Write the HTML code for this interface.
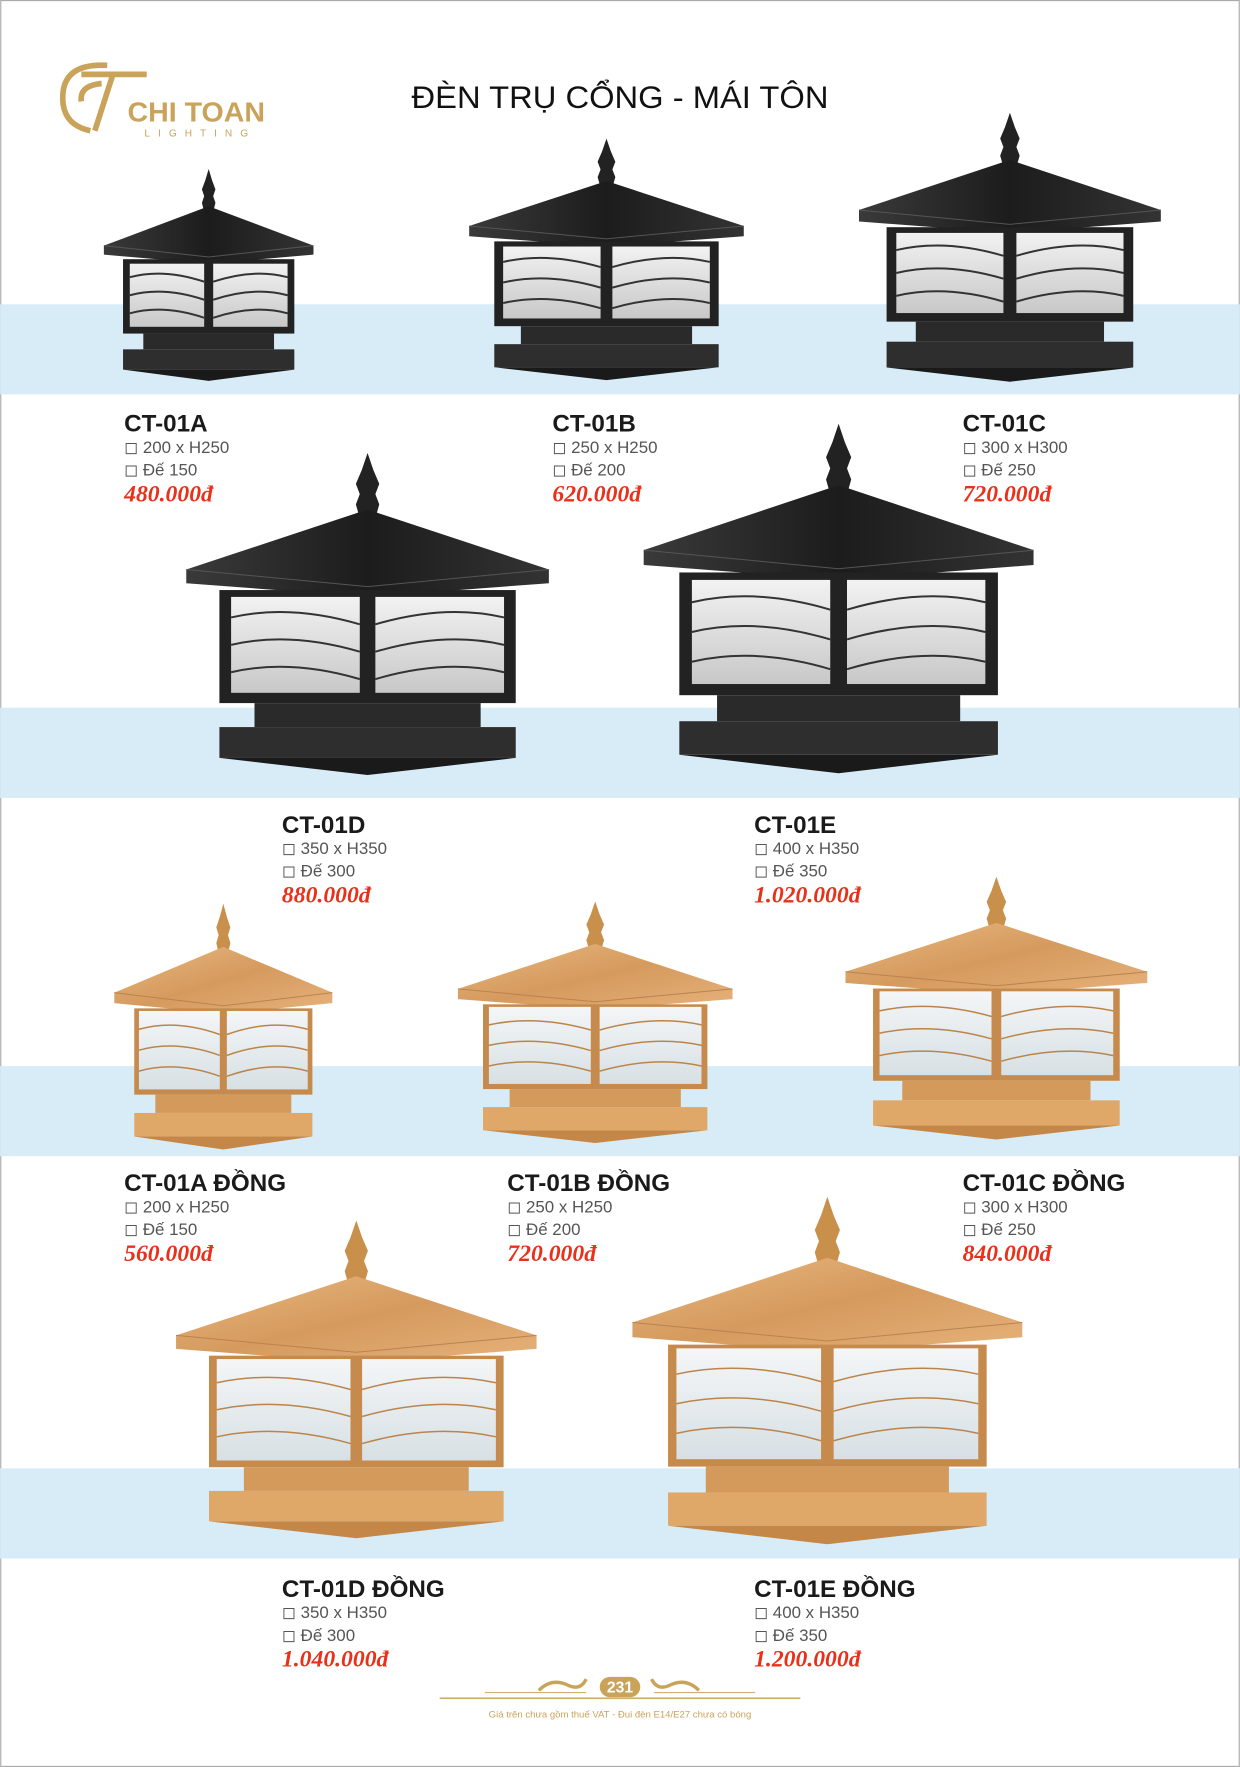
<!DOCTYPE html>
<html><head><meta charset="utf-8"><style>
html,body{margin:0;padding:0;background:#fff}
svg{display:block}
.n{font-family:"Liberation Sans",sans-serif;font-weight:bold;font-size:21.5px;fill:#1a1a1a}
.d{font-family:"Liberation Sans",sans-serif;font-size:15px;fill:#555}
.p{font-family:"Liberation Serif",serif;font-weight:bold;font-style:italic;font-size:21px;fill:#e8301a}
</style></head><body>
<svg width="1240" height="1767" viewBox="0 0 1100 1568" xmlns="http://www.w3.org/2000/svg">
<defs>
<linearGradient id="roofB" x1="0" y1="0" x2="1" y2="0"><stop offset="0" stop-color="#3a3a3a"/><stop offset=".5" stop-color="#1c1c1c"/><stop offset="1" stop-color="#333"/></linearGradient>
<linearGradient id="roofG" x1="0" y1="0" x2="1" y2="1"><stop offset="0" stop-color="#e9b880"/><stop offset=".5" stop-color="#d59a5e"/><stop offset="1" stop-color="#e6b27a"/></linearGradient>
<linearGradient id="glass" x1="0" y1="0" x2="0" y2="1"><stop offset="0" stop-color="#f2f2f2"/><stop offset="1" stop-color="#c8c8c8"/></linearGradient>
<linearGradient id="glassG" x1="0" y1="0" x2="0" y2="1"><stop offset="0" stop-color="#f4f6f7"/><stop offset="1" stop-color="#d7e0e4"/></linearGradient>
<g id="lb">
 <path d="M-4 38 L-6 30 L-4 24 L-6 18 L-3 10 L0 0 L3 10 L6 18 L4 24 L6 30 L4 38Z" fill="#222"/>
 <path d="M0 33 L93 68 L93 76 L0 84 L-93 76 L-93 68Z" fill="url(#roofB)"/>
 <path d="M-93 68 L0 78 L93 68" stroke="#555" fill="none" stroke-width="1" vector-effect="non-scaling-stroke"/>
 <rect x="-76" y="80" width="152" height="66" fill="#222"/>
 <rect x="-70" y="84" width="66" height="56" fill="url(#glass)"/>
 <rect x="4" y="84" width="66" height="56" fill="url(#glass)"/>
 <path d="M-70 96 Q-40 88 -4 100 M4 100 Q40 88 70 96 M-70 112 Q-40 104 -4 116 M4 116 Q40 104 70 112 M-70 128 Q-40 120 -4 132 M4 132 Q40 120 70 128" stroke="#333" fill="none" stroke-width="2" vector-effect="non-scaling-stroke"/>
 <rect x="-58" y="146" width="116" height="14" fill="#2a2a2a"/>
 <rect x="-76" y="160" width="152" height="18" fill="#2e2e2e"/>
 <path d="M-76 178 L76 178 L0 188Z" fill="#1a1a1a"/>
</g>
<g id="lg">
 <path d="M-4 38 L-6 30 L-4 24 L-6 18 L-3 10 L0 0 L3 10 L6 18 L4 24 L6 30 L4 38Z" fill="#c9904c"/>
 <path d="M0 33 L93 68 L93 76 L0 84 L-93 76 L-93 68Z" fill="url(#roofG)"/>
 <path d="M-93 68 L0 78 L93 68" stroke="#b98250" fill="none" stroke-width="1" vector-effect="non-scaling-stroke"/>
 <rect x="-76" y="80" width="152" height="66" fill="#c68a4c"/>
 <rect x="-72" y="82" width="69" height="60" fill="url(#glassG)"/>
 <rect x="3" y="82" width="69" height="60" fill="url(#glassG)"/>
 <path d="M-72 96 Q-40 88 -3 100 M3 100 Q40 88 72 96 M-72 112 Q-40 104 -3 116 M3 116 Q40 104 72 112 M-72 128 Q-40 120 -3 132 M3 132 Q40 120 72 128" stroke="#b9854a" fill="none" stroke-width="1.5" vector-effect="non-scaling-stroke"/>
 <rect x="-58" y="146" width="116" height="14" fill="#d39a5c"/>
 <rect x="-76" y="160" width="152" height="18" fill="#e0a868"/>
 <path d="M-76 178 L76 178 L0 188Z" fill="#c48748"/>
</g>
</defs>
<rect x="0.5" y="0.5" width="1099" height="1567" fill="#fff" stroke="#aaa"/>
<rect x="0" y="270" width="1100" height="80" fill="#d8ecf8"/>
<rect x="0" y="628" width="1100" height="80" fill="#d8ecf8"/>
<rect x="0" y="946" width="1100" height="80" fill="#d8ecf8"/>
<rect x="0" y="1303" width="1100" height="80" fill="#d8ecf8"/>
<!-- logo -->
<g fill="none" stroke="#c9a35a" stroke-width="5">
<path d="M95 58 Q60 56 56 80 Q52 110 80 116"/>
<path d="M72 66 L130 66 M100 66 L84 116 M72 90 Q70 76 90 74"/>
</g>
<text x="113" y="108" font-family="Liberation Sans,sans-serif" font-weight="bold" font-size="25" fill="#c9a35a" textLength="122" lengthAdjust="spacingAndGlyphs">CHI TOAN</text>
<text x="128" y="121" font-family="Liberation Sans,sans-serif" font-size="9" fill="#c9a35a" textLength="92" lengthAdjust="spacing">LIGHTING</text>
<text x="365" y="96" font-family="Liberation Sans,sans-serif" font-size="28" fill="#111" textLength="370" lengthAdjust="spacingAndGlyphs">ĐÈN TRỤ CỔNG - MÁI TÔN</text>
<!-- lamps -->
<use href="#lb" transform="translate(185,150) scale(1.0,1.0)"/>
<use href="#lb" transform="translate(538,123) scale(1.31,1.14)"/>
<use href="#lb" transform="translate(896,100) scale(1.44,1.27)"/>
<use href="#lb" transform="translate(326,402) scale(1.73,1.52)"/>
<use href="#lb" transform="translate(744,376) scale(1.86,1.65)"/>
<use href="#lg" transform="translate(198,802) scale(1.04,1.16)"/>
<use href="#lg" transform="translate(528,800) scale(1.31,1.14)"/>
<use href="#lg" transform="translate(884,778) scale(1.44,1.24)"/>
<use href="#lg" transform="translate(316,1083) scale(1.72,1.5)"/>
<use href="#lg" transform="translate(734,1062) scale(1.86,1.64)"/>
<!-- labels -->
<g>
<text class="n" x="110" y="383">CT-01A</text><text class="d" x="110" y="402">◻ 200 x H250</text><text class="d" x="110" y="422">◻ Đế 150</text><text class="p" x="110" y="445">480.000đ</text>
<text class="n" x="490" y="383">CT-01B</text><text class="d" x="490" y="402">◻ 250 x H250</text><text class="d" x="490" y="422">◻ Đế 200</text><text class="p" x="490" y="445">620.000đ</text>
<text class="n" x="854" y="383">CT-01C</text><text class="d" x="854" y="402">◻ 300 x H300</text><text class="d" x="854" y="422">◻ Đế 250</text><text class="p" x="854" y="445">720.000đ</text>
<text class="n" x="250" y="739">CT-01D</text><text class="d" x="250" y="758">◻ 350 x H350</text><text class="d" x="250" y="778">◻ Đế 300</text><text class="p" x="250" y="801">880.000đ</text>
<text class="n" x="669" y="739">CT-01E</text><text class="d" x="669" y="758">◻ 400 x H350</text><text class="d" x="669" y="778">◻ Đế 350</text><text class="p" x="669" y="801">1.020.000đ</text>
<text class="n" x="110" y="1057">CT-01A ĐỒNG</text><text class="d" x="110" y="1076">◻ 200 x H250</text><text class="d" x="110" y="1096">◻ Đế 150</text><text class="p" x="110" y="1119">560.000đ</text>
<text class="n" x="450" y="1057">CT-01B ĐỒNG</text><text class="d" x="450" y="1076">◻ 250 x H250</text><text class="d" x="450" y="1096">◻ Đế 200</text><text class="p" x="450" y="1119">720.000đ</text>
<text class="n" x="854" y="1057">CT-01C ĐỒNG</text><text class="d" x="854" y="1076">◻ 300 x H300</text><text class="d" x="854" y="1096">◻ Đế 250</text><text class="p" x="854" y="1119">840.000đ</text>
<text class="n" x="250" y="1417">CT-01D ĐỒNG</text><text class="d" x="250" y="1436">◻ 350 x H350</text><text class="d" x="250" y="1456">◻ Đế 300</text><text class="p" x="250" y="1479">1.040.000đ</text>
<text class="n" x="669" y="1417">CT-01E ĐỒNG</text><text class="d" x="669" y="1436">◻ 400 x H350</text><text class="d" x="669" y="1456">◻ Đế 350</text><text class="p" x="669" y="1479">1.200.000đ</text>
</g>
<!-- footer -->
<line x1="390" y1="1507" x2="710" y2="1507" stroke="#d0b070" stroke-width="1.5"/>
<path d="M430 1502 L520 1502 M580 1502 L670 1502" stroke="#d0b070" stroke-width="1"/>
<path d="M478 1500 Q490 1488 505 1496 Q515 1500 520 1490 M620 1500 Q608 1488 593 1496 Q583 1500 578 1490" stroke="#c9a35a" stroke-width="3" fill="none"/>
<rect x="532" y="1488" width="36" height="18" rx="9" fill="#c9a35a"/>
<text x="550" y="1502" text-anchor="middle" font-family="Liberation Sans,sans-serif" font-weight="bold" font-size="14" fill="#fff">231</text>
<text x="550" y="1524" text-anchor="middle" font-family="Liberation Sans,sans-serif" font-size="8.5" fill="#c9a35a">Giá trên chưa gồm thuế VAT - Đui đèn E14/E27 chưa có bóng</text>
</svg>
</body></html>
